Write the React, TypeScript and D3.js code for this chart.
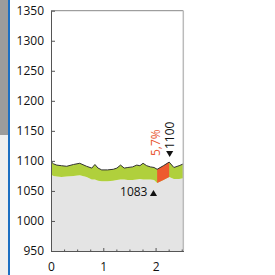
import React, { useEffect, useRef } from 'react';
import * as d3 from 'd3';

// readings along the x axis
const xValues = [0, 0.05, 0.11, 0.2, 0.3, 0.43, 0.55, 0.68, 0.78, 0.84, 0.9, 0.97, 1.08, 1.19, 1.26, 1.33, 1.4, 1.47, 1.56, 1.64, 1.7, 1.76, 1.83, 1.9, 1.97, 2.03, 2.15, 2.26, 2.35, 2.45, 2.53];
const upperValues = [1099, 1095, 1093, 1092, 1091, 1094, 1096, 1091, 1088, 1094, 1088, 1085, 1085, 1086, 1088, 1093, 1088, 1089, 1090, 1093, 1092, 1096, 1092, 1090, 1089, 1086, 1092, 1098, 1089, 1092, 1095];
const lowerValues = [1077, 1075, 1074, 1073, 1074, 1075, 1076, 1073, 1069, 1069, 1067, 1066, 1066, 1067, 1068, 1069, 1069, 1068, 1068, 1069, 1070, 1069, 1069, 1069, 1068, 1063, 1068, 1073, 1070, 1070, 1071];

const yTicks = [950, 1000, 1050, 1100, 1150, 1200, 1250, 1300, 1350];
const xTicks = [0, 1, 2];
const xMinorTicks = [0.25, 0.5, 0.75, 1.25, 1.5, 1.75, 2.25, 2.5];
const highlight = [2.03, 2.26];
const lowMark = { x: 1.96, label: '1083' };
const highMark = { x: 2.26, label: '1100' };
const changeLabel = '5,7%';

const font = '"Open Sans", sans-serif';

function App() {
  const chartRef = useRef<SVGSVGElement>(null);

  useEffect(() => {
    const svg = d3.select(chartRef.current);
    svg.selectAll('*').remove();

    const left = 51;
    const right = 183.3;
    const top = 10.7;
    const bottom = 251;

    const data = xValues.map((x, i) => ({ x, hi: upperValues[i], lo: lowerValues[i] }));

    const xScale = d3.scaleLinear().domain([0, 2.53]).range([left, right]);
    const yScale = d3.scaleLinear().domain([950, 1350]).range([bottom, top]);

    // left side strip
    svg.append('rect').attr('x', 0).attr('y', 0).attr('width', 8).attr('height', 135).attr('fill', '#9c9c9c');
    svg.append('rect').attr('x', 0).attr('y', 135).attr('width', 8).attr('height', 140).attr('fill', '#efefef');
    svg.append('rect').attr('x', 8).attr('y', 0).attr('width', 2).attr('height', 275).attr('fill', '#1d6fc2');

    const below = d3
      .area<any>()
      .x((d) => xScale(d.x))
      .y0(yScale(950))
      .y1((d) => yScale(d.lo));

    const band = d3
      .area<any>()
      .x((d) => xScale(d.x))
      .y0((d) => yScale(d.lo))
      .y1((d) => yScale(d.hi));

    const line = d3
      .line<any>()
      .x((d) => xScale(d.x))
      .y((d) => yScale(d.hi));

    svg.append('path').datum(data).attr('d', below).attr('fill', '#e4e4e4');
    svg.append('path').datum(data).attr('d', band).attr('fill', '#b0d03c');
    svg
      .append('path')
      .datum(data.filter((d) => d.x >= highlight[0] && d.x <= highlight[1]))
      .attr('d', band)
      .attr('fill', '#ee5a2f');
    svg
      .append('path')
      .datum(data)
      .attr('d', line)
      .attr('fill', 'none')
      .attr('stroke', '#333')
      .attr('stroke-width', 1);

    // frame
    svg.append('line').attr('x1', left).attr('x2', right).attr('y1', top).attr('y2', top).attr('stroke', '#888');
    svg.append('line').attr('x1', right).attr('x2', right).attr('y1', top).attr('y2', bottom).attr('stroke', '#bbb').attr('stroke-width', 1.5);

    const yAxis = svg
      .append('g')
      .attr('transform', `translate(${left},0)`)
      .call(d3.axisLeft(yScale).tickValues(yTicks).tickSize(-4).tickSizeOuter(0).tickPadding(7).tickFormat(d3.format('d')));

    svg
      .append('g')
      .attr('transform', `translate(0,${bottom})`)
      .call(d3.axisBottom(xScale).tickValues(xMinorTicks).tickSize(-1.5).tickSizeOuter(0).tickFormat(() => ''));

    const xAxis = svg
      .append('g')
      .attr('transform', `translate(0,${bottom})`)
      .call(d3.axisBottom(xScale).tickValues(xTicks).tickSize(-3).tickSizeOuter(0).tickPadding(11).tickFormat(d3.format('d')));

    svg.selectAll('.domain').attr('stroke', '#555');
    svg.selectAll('.tick line').attr('stroke', '#555');
    [yAxis, xAxis].forEach((g) => g.selectAll('text').style('font-family', font).style('font-size', '12px').attr('fill', '#111'));

    // annotations
    svg
      .append('text')
      .attr('x', xScale(lowMark.x) - 6)
      .attr('y', 196)
      .attr('text-anchor', 'end')
      .style('font-family', font)
      .style('font-size', '12px')
      .attr('fill', '#111')
      .text(lowMark.label);
    svg
      .append('path')
      .attr('d', d3.symbol(d3.symbolTriangle, 22)())
      .attr('transform', `translate(${xScale(lowMark.x)},194)`)
      .attr('fill', '#111');

    const hx = xScale(highMark.x);
    svg
      .append('path')
      .attr('d', d3.symbol(d3.symbolTriangle, 22)())
      .attr('transform', `translate(${hx + 0.5},153) rotate(180)`)
      .attr('fill', '#111');
    svg
      .append('text')
      .attr('transform', `translate(${hx + 4.5},149) rotate(-90)`)
      .style('font-family', font)
      .style('font-size', '12px')
      .attr('fill', '#111')
      .text(highMark.label);
    svg
      .append('text')
      .attr('transform', `translate(${hx - 9},156) rotate(-90)`)
      .style('font-family', font)
      .style('font-size', '12px')
      .attr('fill', '#e8552e')
      .text(changeLabel);

    return () => {};
  }, []);

  return <svg ref={chartRef} width={275} height={275} style={{ position: 'absolute', left: 0, top: 0 }} />;
}

export default App;
